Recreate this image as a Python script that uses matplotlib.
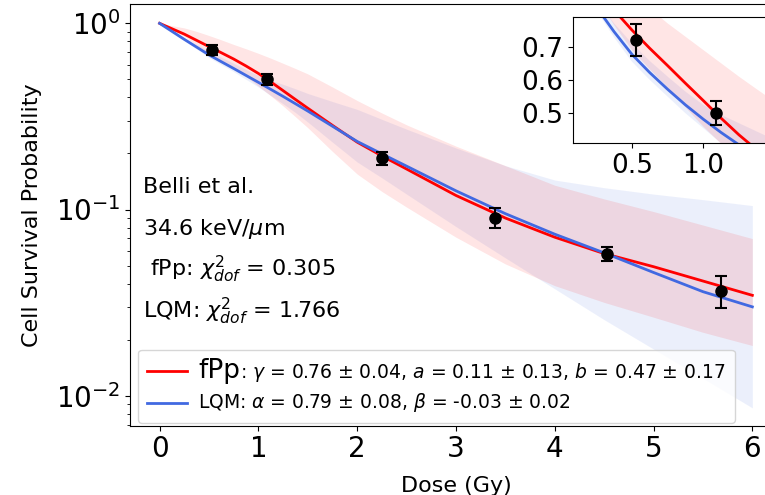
import matplotlib
matplotlib.use('Agg')
import matplotlib.pyplot as plt
from matplotlib.lines import Line2D
from matplotlib.offsetbox import AnchoredOffsetbox, HPacker, VPacker, TextArea, DrawingArea

# Belli et al. measured points
dose_pts = [0.53, 1.09, 2.25, 3.39, 4.53, 5.68]
surv_pts = [0.72, 0.50, 0.188, 0.0905, 0.058, 0.0367]
surv_err = [0.047, 0.036, 0.015, 0.011, 0.0048, 0.0072]

# fitted curves and their uncertainty bands
dose = [0, 0.25, 0.375, 0.5, 0.625, 0.75, 0.875, 1.0, 1.125, 1.25, 1.375, 1.5,
        1.75, 2.0, 2.25, 2.5, 3.0, 3.5, 4.0, 4.5, 5.0, 5.5, 6.0]
fpp_fit = [1.0, 0.875, 0.81, 0.75, 0.695, 0.643, 0.59, 0.538, 0.485, 0.435, 0.39, 0.35,
           0.283, 0.23, 0.194, 0.165, 0.119, 0.090, 0.071, 0.058, 0.0493, 0.0413, 0.0346]
fpp_hi = [1.0, 0.945, 0.905, 0.86, 0.815, 0.77, 0.73, 0.69, 0.65, 0.61, 0.572, 0.535,
          0.455, 0.385, 0.33, 0.285, 0.219, 0.172, 0.135, 0.114, 0.0975, 0.0825, 0.0698]
fpp_lo = [1.0, 0.85, 0.765, 0.69, 0.632, 0.578, 0.518, 0.46, 0.408, 0.36, 0.315, 0.275,
          0.205, 0.155, 0.125, 0.103, 0.071, 0.051, 0.039, 0.0317, 0.0264, 0.0219, 0.0186]
lqm_fit = [1.0, 0.82, 0.745, 0.677, 0.622, 0.572, 0.525, 0.482, 0.442, 0.405, 0.37, 0.338,
           0.28, 0.232, 0.199, 0.171, 0.126, 0.095, 0.0737, 0.0585, 0.0459, 0.0362, 0.030]
lqm_hi = [1.0, 0.84, 0.77, 0.71, 0.657, 0.61, 0.565, 0.525, 0.495, 0.47, 0.445, 0.42,
          0.38, 0.345, 0.305, 0.27, 0.214, 0.172, 0.144, 0.131, 0.121, 0.113, 0.105]
lqm_lo = [1.0, 0.81, 0.728, 0.655, 0.6, 0.55, 0.5, 0.455, 0.41, 0.37, 0.332, 0.295,
          0.23, 0.18, 0.148, 0.121, 0.081, 0.055, 0.0375, 0.0256, 0.0178, 0.0124, 0.0086]

info_lines = ['Belli et al.', r'34.6 keV/$\mu$m',
              r' fPp: $\chi^2_{dof}$ = 0.305', r'LQM: $\chi^2_{dof}$ = 1.766']
fpp_label = r': $\gamma$ = 0.76 $\pm$ 0.04, $a$ = 0.11 $\pm$ 0.13, $b$ = 0.47 $\pm$ 0.17'
lqm_label = r'LQM: $\alpha$ = 0.79 $\pm$ 0.08, $\beta$ = -0.03 $\pm$ 0.02'

RED = 'red'
BLUE = 'royalblue'


def draw_all(a):
    a.fill_between(dose, lqm_lo, lqm_hi, color=BLUE, alpha=0.1, lw=0)
    a.fill_between(dose, fpp_lo, fpp_hi, color=RED, alpha=0.1, lw=0)
    a.plot(dose, fpp_fit, color=RED, lw=2)
    a.plot(dose, lqm_fit, color=BLUE, lw=2)
    a.errorbar(dose_pts, surv_pts, yerr=surv_err, fmt='o', color='k', ms=8,
               capsize=4, elinewidth=1.5, capthick=1.5, zorder=5)


fig = plt.figure(figsize=(7.65, 4.95), dpi=100)
ax = fig.add_axes([0.1699, 0.14, 0.8523, 0.8519])
draw_all(ax)
ax.set_yscale('log')
ax.set_xlim(-0.3, 6.3)
ax.set_ylim(0.0069, 1.27)
ax.set_xticks([0, 1, 2, 3, 4, 5, 6])
ax.tick_params(labelsize=20)
ax.set_xlabel('Dose (Gy)', fontsize=16, labelpad=9)
ax.set_ylabel('Cell Survival Probability', fontsize=16, labelpad=10)

y0 = 0.552
for i, s in enumerate(info_lines):
    ax.text(0.02, y0 - i * 0.099, s, transform=ax.transAxes, fontsize=16, va='baseline')

# legend built by hand so that "fPp" can be bigger than the rest of the line
def row(color, parts):
    da = DrawingArea(29, 10, 0, 0)
    da.add_artist(Line2D([0, 29], [5, 5], color=color, lw=2))
    texts = [TextArea(t, textprops=dict(size=sz)) for t, sz in parts]
    txt = HPacker(children=texts, align='baseline', pad=0, sep=0)
    return HPacker(children=[da, txt], align='center', pad=0, sep=8)

box = VPacker(children=[row(RED, [('fPp', 19), (fpp_label, 13.5)]),
                        row(BLUE, [(lqm_label, 13.5)])],
              align='left', pad=0, sep=5)
leg = AnchoredOffsetbox(loc='lower left', child=box, pad=0.45, borderpad=0,
                        frameon=True, prop=dict(size=14),
                        bbox_to_anchor=(0.0123, 0.0064), bbox_transform=ax.transAxes)
leg.patch.set_boxstyle('round,pad=0,rounding_size=0.2')
leg.patch.set_edgecolor('0.8')
leg.patch.set_facecolor('white')
leg.patch.set_alpha(0.8)
ax.add_artist(leg)

# zoomed view of the low-dose points
axins = ax.inset_axes([0.68, 0.67, 0.3, 0.3])
draw_all(axins)
axins.set_xlim(0.09, 1.46)
axins.set_ylim(0.41, 0.79)
axins.set_xticks([0.5, 1.0])
axins.set_yticks([0.5, 0.6, 0.7])
axins.tick_params(labelsize=19)

fig.savefig('out.png', dpi=100)
